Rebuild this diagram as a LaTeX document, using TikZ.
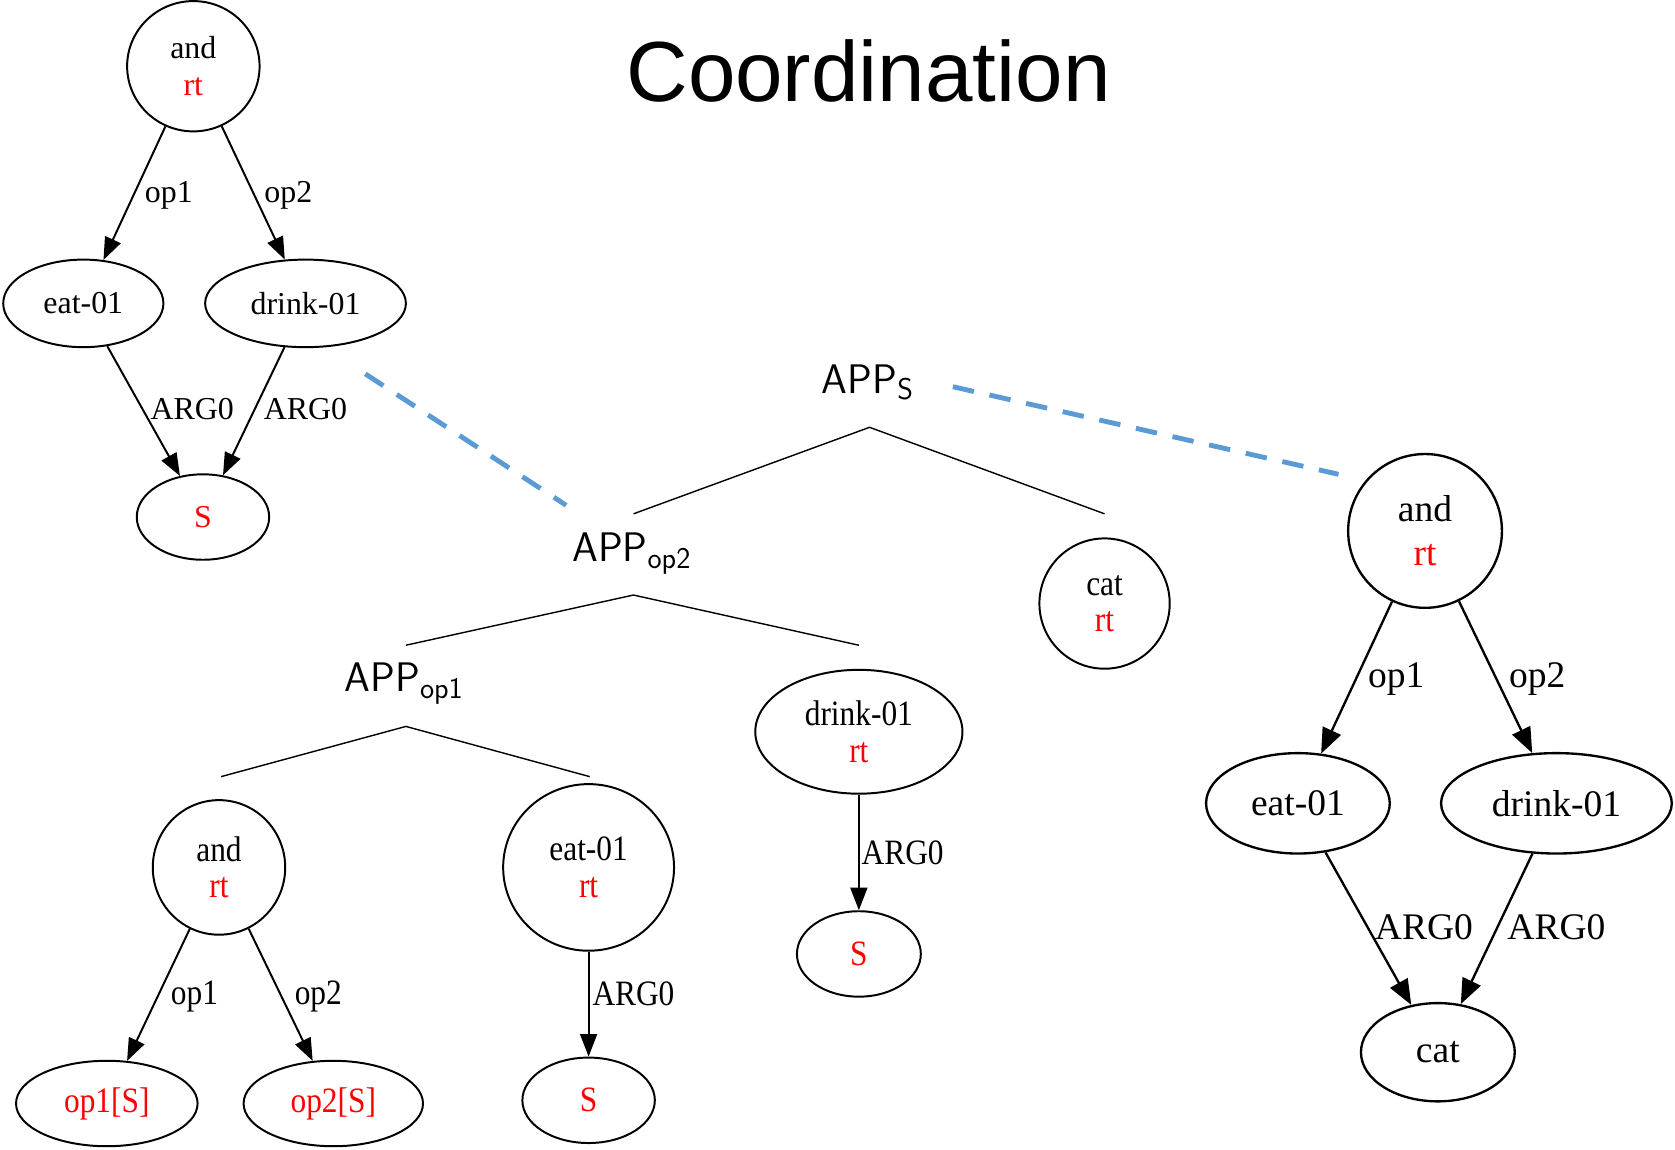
\documentclass[tikz,border=0pt]{standalone}
\usepackage{fontspec}
\setmainfont{Liberation Serif}
\newfontfamily\titlefont{Liberation Sans}
\newfontfamily\narrowserif[FakeStretch=0.88]{Liberation Serif}
\usetikzlibrary{shapes.geometric,arrows.meta}
\definecolor{linkblue}{RGB}{91,155,213}
\newcommand{\rtmark}{\textcolor{red}{rt}}
% rule name with a lowered index
\newcommand{\appname}[1]{APP\raisebox{-3.5pt}{\fontsize{16}{18}\selectfont #1}}

\begin{document}
\begin{tikzpicture}[x=0.02cm,y=-0.02cm,
  amr/.style={draw,ellipse,line width=1.05pt,inner sep=0pt,align=center,
    font=\fontsize{17}{20}\selectfont},
  amrnar/.style={amr,font=\narrowserif\fontsize{19}{19.5}\selectfont},
  amrbig/.style={amr,line width=1.25pt,font=\fontsize{20}{23.5}\selectfont},
  red text/.style={text=red},
  edge/.style={line width=1.05pt,-{Triangle[length=12pt,width=9pt]}},
  edgebig/.style={line width=1.25pt,-{Triangle[length=13.5pt,width=10.5pt]}},
  lbl/.style={inner sep=0pt,font=\fontsize{17}{20}\selectfont},
  lblnar/.style={inner sep=0pt,font=\narrowserif\fontsize{19}{20}\selectfont},
  lblbig/.style={inner sep=0pt,font=\fontsize{20}{23}\selectfont},
  app/.style={inner sep=0pt,font=\sffamily\fontsize{22}{26}\selectfont},
  branch/.style={line width=0.75pt},
  link/.style={line width=2.6pt,color=linkblue,dash pattern=on 11.5pt off 8.5pt}
]
\useasboundingbox (0,0) rectangle (1568,1076);

% title
\node[font=\titlefont\fontsize{45.5}{50}\selectfont,inner sep=0pt] (title) at (813,66) {Coordination};

% ---- upper left graph ----
\node[amr,minimum width=2.48cm,minimum height=2.44cm] (tlAnd) at (181,62) {and\\\rtmark};
\node[amr,minimum width=3.0cm,minimum height=1.64cm] (tlEat) at (78,284) {eat-01};
\node[amr,minimum width=3.76cm,minimum height=1.64cm] (tlDrink) at (286,284) {drink-01};
\node[amr,red text,minimum width=2.48cm,minimum height=1.6cm] (tlS) at (190,484) {S};
\draw[edge] (tlAnd) -- (tlEat) node[lbl] at (158,183) {op1};
\draw[edge] (tlAnd) -- (tlDrink) node[lbl] at (270,183) {op2};
\draw[edge] (tlEat) -- (tlS) node[lbl] at (180,383) {ARG0};
\draw[edge] (tlDrink) -- (tlS) node[lbl] at (286,383) {ARG0};

% ---- derivation tree ----
\node[app] (appS) at (812,358) {\appname{S}};
\node[app] (appOpTwo) at (591,518) {\appname{op2}};
\node[app] (appOpOne) at (378,640) {\appname{op1}};

\coordinate (topS) at (814,400);
\coordinate (topS-l) at (593,481);
\coordinate (topS-r) at (1034,481);
\coordinate (topTwo) at (593,557);
\coordinate (topTwo-l) at (380,604);
\coordinate (topTwo-r) at (804,604);
\coordinate (topOne) at (380,680);
\coordinate (topOne-l) at (207,727);
\coordinate (topOne-r) at (552,727);
\draw[branch] (topS-l) -- (topS) -- (topS-r);
\draw[branch] (topTwo-l) -- (topTwo) -- (topTwo-r);
\draw[branch] (topOne-l) -- (topOne) -- (topOne-r);

% leaves of the derivation
\node[amrnar,minimum width=2.48cm,minimum height=2.52cm] (lAnd) at (205,812) {and\\\rtmark};
\node[amrnar,red text,minimum width=3.4cm,minimum height=1.6cm] (lOpOne) at (100,1033) {op1[S]};
\node[amrnar,red text,minimum width=3.36cm,minimum height=1.6cm] (lOpTwo) at (312,1033) {op2[S]};
\draw[edge] (lAnd) -- (lOpOne) node[lblnar] at (182,933) {op1};
\draw[edge] (lAnd) -- (lOpTwo) node[lblnar] at (298,933) {op2};

\node[amrnar,minimum width=3.2cm,minimum height=3.12cm] (lEat) at (551,812) {eat-01\\\rtmark};
\node[amrnar,red text,minimum width=2.48cm,minimum height=1.6cm] (lEatS) at (551,1030) {S};
\draw[edge] (lEat) -- (lEatS) node[lblnar] at (593,930) {ARG0};

\node[amrnar,minimum width=3.88cm,minimum height=2.32cm] (lDrink) at (804,685) {drink-01\\\rtmark};
\node[amrnar,red text,minimum width=2.32cm,minimum height=1.6cm] (lDrinkS) at (804,893) {S};
\draw[edge] (lDrink) -- (lDrinkS) node[lblnar] at (845,798) {ARG0};

\node[amrnar,minimum width=2.44cm,minimum height=2.44cm] (lCat) at (1034,565) {cat\\\rtmark};

% ---- result graph ----
\node[amrbig,minimum width=2.88cm,minimum height=2.88cm] (rAnd) at (1334,497) {and\\\rtmark};
\node[amrbig,minimum width=3.44cm,minimum height=1.88cm] (rEat) at (1215,752) {eat-01};
\node[amrbig,minimum width=4.32cm,minimum height=1.88cm] (rDrink) at (1457,752) {drink-01};
\node[amrbig,minimum width=2.88cm,minimum height=1.84cm] (rCat) at (1346,985) {cat};
\draw[edgebig] (rAnd) -- (rEat) node[lblbig] at (1307,636) {op1};
\draw[edgebig] (rAnd) -- (rDrink) node[lblbig] at (1439,636) {op2};
\draw[edgebig] (rEat) -- (rCat) node[lblbig] at (1333,868) {ARG0};
\draw[edgebig] (rDrink) -- (rCat) node[lblbig] at (1457,868) {ARG0};

% ---- links from the tree to the graphs ----
\coordinate (linkL-a) at (342,350);
\coordinate (linkL-b) at (530,473);
\coordinate (linkR-a) at (892,362);
\coordinate (linkR-b) at (1253,444);
\draw[link] (linkL-a) -- (linkL-b);
\draw[link] (linkR-a) -- (linkR-b);
\end{tikzpicture}
\end{document}
